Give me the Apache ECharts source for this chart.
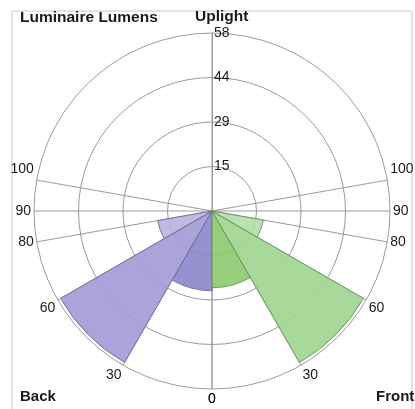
<!DOCTYPE html>
<html>
<head>
<meta charset="utf-8">
<script src="https://cdn.jsdelivr.net/npm/echarts@6/dist/echarts.min.js"></script>
<style>
  html, body { margin: 0; padding: 0; background: #fff; }
  #chart { width: 415px; height: 409px; }
</style>
</head>
<body>
<div id="chart"></div>
<script>
// zones, angles measured from nadir (0 = straight down), in degrees
let zoneFrom = [0, 30, 60];
let zoneTo = [30, 60, 80];
let backLumens = [26, 57, 18];   // Back Low / Medium / High
let frontLumens = [25, 57, 17];  // Front Low / Medium / High
let backColors = ['#8b86ca', '#a399d6', '#b9b2e1'];
let frontColors = ['#8bca6c', '#9fd48f', '#b3deaa'];
let angleTicks = [0, 30, 60, 80, 90, 100]; // labels on each side
let radiusMax = 58;

// angle axis runs counter-clockwise from the top: back = 180 - deg, front = 180 + deg
function toAxis(side, deg){
    return side == 'back' ? 180 - deg : 180 + deg;
}

let tickValues = [0];
angleTicks.forEach(t => {
    tickValues.push(toAxis('back', t));
    tickValues.push(toAxis('front', t));
});

function buildData(side, vals, colors){
    let out = [];
    vals.forEach((v, i) => {
        let a = toAxis(side, zoneFrom[i]), b = toAxis(side, zoneTo[i]);
        out.push({
            value: [Math.min(a, b), Math.max(a, b), v],
            itemStyle: { color: colors[i] }
        });
    });
    return out;
}

function renderWedge(params, api){
    let cs = params.coordSys;
    let a0 = api.value(0), a1 = api.value(1), rv = api.value(2);
    let p0 = api.coord([rv, a0]);
    let p1 = api.coord([rv, a1]);
    let r = Math.hypot(p0[0] - cs.cx, p0[1] - cs.cy);
    let s = Math.atan2(p0[1] - cs.cy, p0[0] - cs.cx);
    let e = Math.atan2(p1[1] - cs.cy, p1[0] - cs.cx);
    let d = e - s;
    while (d > Math.PI) d -= 2 * Math.PI;
    while (d <= -Math.PI) d += 2 * Math.PI;
    if (d < 0) { s = e; d = -d; }
    return {
        type: 'sector',
        shape: { cx: cs.cx, cy: cs.cy, r0: 0, r: r, startAngle: s, endAngle: s + d, clockwise: true },
        style: api.style()
    };
}

let myChart = echarts.init(document.getElementById('chart'));

let fam = 'Liberation Sans, Arial, sans-serif';

option = {
    backgroundColor: '#fff',
    animation: false,
    graphic: [
        { type: 'rect', shape: { x: 12, y: 11, width: 400, height: 410 }, style: { fill: 'none', stroke: '#c8c8c8', lineWidth: 1 }, z: -1 },
        { type: 'text', left: 20, top: 10, style: { text: 'Luminaire Lumens', font: 'bold 15.5px Liberation Sans, Arial', fill: '#1a1a1a' } },
        { type: 'text', left: 195, top: 9, style: { text: 'Uplight', font: 'bold 15.5px Liberation Sans, Arial', fill: '#1a1a1a' } },
        { type: 'text', left: 20, top: 389, style: { text: 'Back', font: 'bold 15px Liberation Sans, Arial', fill: '#1a1a1a' } },
        { type: 'text', left: 376, top: 389, style: { text: 'Front', font: 'bold 15px Liberation Sans, Arial', fill: '#1a1a1a' } }
    ],
    polar: {
        center: [212, 211],
        radius: 178
    },
    angleAxis: {
        type: 'value',
        min: 0,
        max: 360,
        startAngle: 90,
        clockwise: false,
        axisLine: { show: false },
        axisTick: { show: false, customValues: tickValues },
        axisLabel: {
            customValues: tickValues,
            margin: 3,
            fontSize: 14,
            fontFamily: fam,
            color: '#1a1a1a',
            formatter: function(v){
                if (v == 0 || v == 360) return '';
                let d = Math.abs(180 - v);
                return d == 100 ? '{up|' + d + '}' : String(d);
            },
            rich: { up: { fontSize: 14, fontFamily: fam, color: '#1a1a1a', padding: [0, 0, 20, 0] } }
        },
        splitLine: { show: true, lineStyle: { color: '#9a9a9a', width: 1 } }
    },
    radiusAxis: {
        type: 'value',
        min: 0,
        max: radiusMax,
        interval: radiusMax / 4,
        axisLine: { show: true, lineStyle: { color: '#9a9a9a' } },
        axisTick: { show: false },
        axisLabel: {
            showMinLabel: false,
            margin: -2,
            align: 'left',
            fontSize: 14,
            fontFamily: fam,
            color: '#1a1a1a',
            formatter: function(v){ return String(Math.round(v)); }
        },
        splitLine: { show: true, lineStyle: { color: '#9a9a9a', width: 1 } }
    },
    series: [
        {
            name: 'Back',
            type: 'custom',
            coordinateSystem: 'polar',
            renderItem: renderWedge,
            encode: { radius: 2, angle: [0, 1] },
            itemStyle: { opacity: 0.9, borderColor: '#6f6a9c', borderWidth: 1 },
            data: buildData('back', backLumens, backColors)
        },
        {
            name: 'Front',
            type: 'custom',
            coordinateSystem: 'polar',
            renderItem: renderWedge,
            encode: { radius: 2, angle: [0, 1] },
            itemStyle: { opacity: 0.9, borderColor: '#67935a', borderWidth: 1 },
            data: buildData('front', frontLumens, frontColors)
        }
    ]
};

myChart.setOption(option);
</script>
</body>
</html>
